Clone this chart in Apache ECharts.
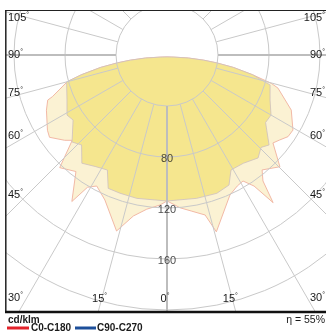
<!DOCTYPE html>
<html>
<head>
<meta charset="utf-8">
<script src="https://cdn.jsdelivr.net/npm/echarts@6/dist/echarts.min.js"></script>
<style>
html,body{margin:0;padding:0;background:#fff;}
#c{width:326px;height:332px;}
</style>
</head>
<body>
<div id="c"></div>
<script>
// ---- data (cd/klm vs gamma angle; negative = left half) ----
const ringTicks = [40, 80, 120, 160, 200, 240];
const ringLabelValues = [80, 120, 160];
const spokeAngles = [-165,-150,-135,-120,-105,-90,-75,-60,-45,-30,-15,0,15,30,45,60,75,90,105,120,135,150,165,180];
const angleLabelAngles = [-105,-90,-75,-60,-45,-30,-15,0,15,30,45,60,75,90,105];
const angleLabelTexts = ['105','90','75','60','45','30','15','0','15','30','45','60','75','90','105'];

const c0c180Angles = [0,-73,-82,-82,-81,-79.4,-77,-75,-70,-69.3,-65.4,-57.8,-55,-50.2,-48,-43.6,-38,-33,-31,-28.2,-23.2,-16,-11.8,-7.5,-2.7,0,3,4.8,9,13.4,15.6,24.2,28.2,31.1,33.6,35.7,37.3,39.6,45.3,50.3,53,56,59.2,66.1,73.4,74.8,77,79.4,81,82,82,73,0];
const c0c180Values = [1.5,5.7,17,29,39.5,53,69,81,95.7,100,104,110.8,112.5,104.5,100,122,116,137,121,116.6,123.7,143.6,129,122,117.8,114.5,117.8,120.2,124,129,144,120.4,116.6,115.4,123.4,142.6,124.2,117,124.6,108,110.7,114.5,115,106.6,90.8,84.8,69,53,39.5,29,17,5.7,1.5];

const c90c270Angles = [0,-73,-82,-82,-81,-79.4,-77,-75,-65.8,-59,-55.3,-47.5,-43.5,-38.2,-32.8,-27.4,-23.8,-18.8,-11.9,0,11.7,19.8,25.5,29.1,35.2,41.5,45.5,48.6,55.6,60,66.4,73.8,77,79.4,81,82,82,73,0];
const c90c270Values = [1.5,5.7,17,29,39.5,53,69,81.5,86,91.5,89.6,101,97.3,108,104,101.6,114.3,114.5,114.9,114.5,114.8,115.3,113,103.2,103.9,107.8,103.4,106.7,93.7,94.2,88.2,84.2,69,53,39.5,29,17,5.7,1.5];

const pairs = (a, v) => a.map((ang, i) => [v[i], ang]);

const chart = echarts.init(document.getElementById('c'), null, {renderer: 'canvas'});
const FONT = 'Liberation Sans, Arial, sans-serif';
const RMAX = 240;
const PX_PER_CD = 1.275;

const spokeSeries = spokeAngles.map(a => ({
  type: 'line', coordinateSystem: 'polar', clip: false, silent: true,
  symbol: 'none', z: 6,
  lineStyle: {color: (a === 0 || Math.abs(a) === 90) ? '#bdbdbd' : '#c9c9c9', width: (a === 0 || Math.abs(a) === 90) ? 2 : 1},
  data: [[40, a], [RMAX, a]]
}));

const option = {
  animation: false,
  backgroundColor: '#fff',
  polar: {center: [167, 55], radius: RMAX * PX_PER_CD},
  angleAxis: {
    type: 'value', min: -180, max: 180, startAngle: 90, clockwise: false,
    axisLine: {show: false}, axisTick: {show: false}, axisLabel: {show: false}, splitLine: {show: false}
  },
  radiusAxis: {
    type: 'value', min: 0, max: RMAX, interval: 40, z: 6,
    axisLine: {show: false}, axisTick: {show: false}, axisLabel: {show: false},
    splitLine: {show: true, lineStyle: {color: '#c9c9c9', width: 1}}
  },
  series: [
    {
      name: 'C0-C180', type: 'line', coordinateSystem: 'polar', symbol: 'none', z: 2,
      lineStyle: {color: '#f2b9a6', width: 1},
      areaStyle: {color: '#fbf2d3', opacity: 1},
      data: pairs(c0c180Angles, c0c180Values)
    },
    {
      name: 'C90-C270', type: 'line', coordinateSystem: 'polar', symbol: 'none', z: 3,
      lineStyle: {color: '#cdbfc0', width: 0.8},
      areaStyle: {color: '#f5e68e', opacity: 1},
      data: pairs(c90c270Angles, c90c270Values)
    },
    ...spokeSeries,
    {
      type: 'scatter', coordinateSystem: 'polar', symbolSize: 1, z: 8, silent: true,
      itemStyle: {color: 'rgba(0,0,0,0)'},
      label: {show: true, position: 'inside', offset: [0, 2], color: '#1a1a1a', fontSize: 11, fontFamily: FONT,
        formatter: p => String(p.value[0])},
      data: ringLabelValues.map(v => [v, 0])
    }
  ]
};
chart.setOption(option);

// angle labels and frame via graphic, positions from the polar scale
const c = chart.convertToPixel({polarIndex: 0}, [0, 0]);
const graphics = [];
const leftX = 27, rightX = 307, bottomY = 299;
angleLabelAngles.forEach((a, i) => {
  const rad = a * Math.PI / 180;
  const sx = Math.sin(rad), cy = Math.cos(rad);
  let tSide = Math.abs(sx) > 1e-6 ? (sx < 0 ? (c[0] - leftX) / -sx : (rightX - c[0]) / sx) : Infinity;
  let tBot = cy > 1e-6 ? (bottomY - c[1]) / cy : Infinity;
  const t = Math.min(tSide, tBot);
  const pt = chart.convertToPixel({polarIndex: 0}, [t / PX_PER_CD, a]);
  let x, y, align;
  if (tSide <= tBot) {
    y = pt[1];
    if (a < 0) { x = 8; align = 'left'; } else { x = 325; align = 'right'; }
  } else {
    y = bottomY; x = pt[0] - 2; align = 'center';
  }
  graphics.push({
    type: 'text', z: 120,
    x: x, y: y,
    style: {
      text: '{a|' + angleLabelTexts[i] + '}{b|°}',
      align: align, verticalAlign: 'middle',
      rich: {
        a: {fontSize: 11, fontFamily: FONT, fill: '#1a1a1a'},
        b: {fontSize: 7, fontFamily: FONT, fill: '#1a1a1a', verticalAlign: 'top', padding: [0, 0, 5, 0]}
      }
    }
  });
});

// masks outside the frame
graphics.push({type: 'rect', z: 100, shape: {x: 0, y: 0, width: 326, height: 10}, style: {fill: '#fff'}});
graphics.push({type: 'rect', z: 100, shape: {x: 0, y: 0, width: 5.5, height: 332}, style: {fill: '#fff'}});
graphics.push({type: 'rect', z: 100, shape: {x: 0, y: 311, width: 326, height: 21}, style: {fill: '#fff'}});
// frame
graphics.push({type: 'line', z: 110, shape: {x1: 5, y1: 10.5, x2: 326, y2: 10.5}, style: {stroke: '#222', lineWidth: 1.2}});
graphics.push({type: 'line', z: 110, shape: {x1: 5.8, y1: 10, x2: 5.8, y2: 312}, style: {stroke: '#222', lineWidth: 1.5}});
graphics.push({type: 'line', z: 110, shape: {x1: 5, y1: 312, x2: 326, y2: 312}, style: {stroke: '#111', lineWidth: 2.5}});
// legend
const LEG = {fontSize: 10, fontWeight: 'bold', fontFamily: FONT, fill: '#1a1a1a', verticalAlign: 'middle'};
graphics.push({type: 'text', z: 120, x: 8, y: 320, style: Object.assign({text: 'cd/klm'}, LEG)});
graphics.push({type: 'line', z: 120, shape: {x1: 7, y1: 328, x2: 29, y2: 328}, style: {stroke: '#e3232b', lineWidth: 3}});
graphics.push({type: 'text', z: 120, x: 31, y: 328, style: Object.assign({text: 'C0-C180'}, LEG)});
graphics.push({type: 'line', z: 120, shape: {x1: 75, y1: 328, x2: 96, y2: 328}, style: {stroke: '#1d4f9a', lineWidth: 3}});
graphics.push({type: 'text', z: 120, x: 97, y: 328, style: Object.assign({text: 'C90-C270'}, LEG)});
graphics.push({type: 'text', z: 120, x: 325, y: 320, style: {text: 'η = 55%', fontSize: 10.5, fontFamily: FONT, fill: '#1a1a1a', align: 'right', verticalAlign: 'middle'}});

chart.setOption({graphic: graphics});
</script>
</body>
</html>
